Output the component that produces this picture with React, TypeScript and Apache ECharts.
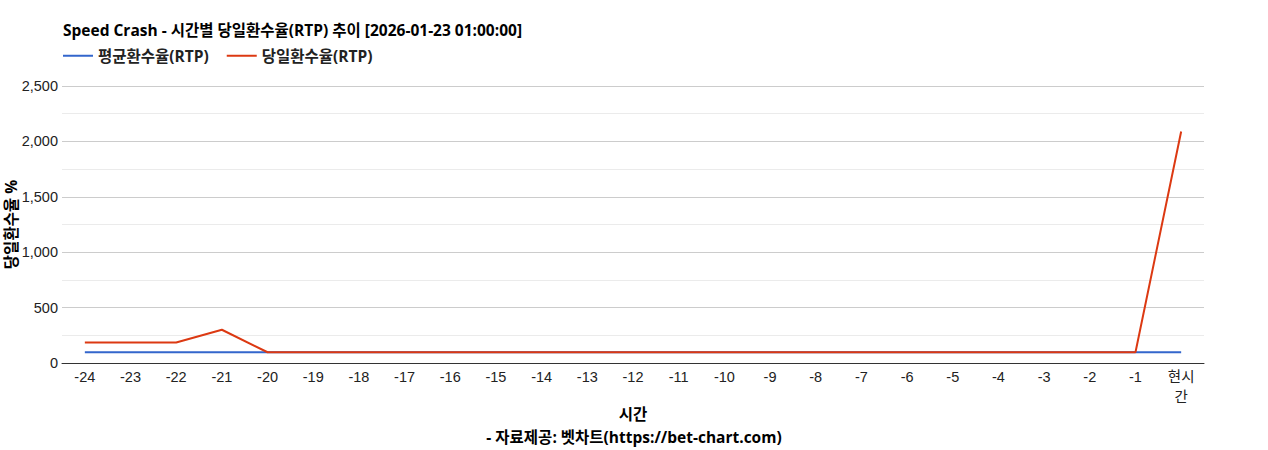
import * as echarts from 'echarts';
import { useEffect, useRef } from 'react';

const hours = [
    '-24', '-23', '-22', '-21', '-20', '-19', '-18', '-17', '-16', '-15', '-14', '-13',
    '-12', '-11', '-10', '-9', '-8', '-7', '-6', '-5', '-4', '-3', '-2', '-1', '현시간'
];
const avgRtp = [
    97, 97, 97, 97, 97, 97, 97, 97, 97, 97, 97, 97,
    97, 97, 97, 97, 97, 97, 97, 97, 97, 97, 97, 97, 97
];
const dayRtp = [
    185, 185, 185, 300, 97, 97, 97, 97, 97, 97, 97, 97,
    97, 97, 97, 97, 97, 97, 97, 97, 97, 97, 97, 97, 2090
];

const FONT = "'Liberation Sans', Arial, 'Noto Sans CJK KR', sans-serif";
const KFONT = "'Open Sans', 'Noto Sans CJK KR', sans-serif";
const BIG = 15.5;

const App = () => {
    const chartDiv = useRef<HTMLDivElement>(null);

    useEffect(() => {
        const chart = echarts.init(chartDiv.current, null, { renderer: 'svg' });

        chart.setOption({
            animation: false,
            title: [
                {
                    text: 'Speed Crash - 시간별 당일환수율(RTP) 추이 [2026-01-23 01:00:00]',
                    left: 58,
                    top: 17,
                    textStyle: { fontFamily: KFONT, fontSize: BIG, fontWeight: 'bold', color: '#000' }
                },
                {
                    text: '- 자료제공: 벳차트(https://bet-chart.com)',
                    left: 'center',
                    top: 424,
                    textStyle: { fontFamily: KFONT, fontSize: BIG, fontWeight: 'bold', color: '#000' }
                }
            ],
            legend: {
                left: 58,
                top: 43,
                icon: 'rect',
                itemWidth: 30,
                itemHeight: 2,
                itemGap: 18,
                textStyle: { fontFamily: KFONT, fontSize: BIG, fontWeight: 'bold', color: '#222' },
                data: ['평균환수율(RTP)', '당일환수율(RTP)']
            },
            grid: { left: 62, right: 64, top: 86, bottom: 87, containLabel: false, outerBoundsMode: 'none' },
            xAxis: {
                type: 'category',
                data: hours,
                boundaryGap: true,
                name: '시간',
                nameLocation: 'middle',
                nameGap: 43,
                nameMoveOverlap: false,
                nameTextStyle: { fontFamily: KFONT, fontSize: BIG, fontWeight: 'bold', color: '#000' },
                axisLine: { lineStyle: { color: '#333', width: 1 } },
                axisTick: { show: false },
                axisLabel: {
                    interval: 0,
                    margin: 4,
                    fontFamily: FONT,
                    fontSize: 14.5,
                    color: '#222',
                    lineHeight: 20,
                    formatter: (v: string) => (v === '현시간' ? '현시\n간' : v)
                }
            },
            yAxis: {
                type: 'value',
                min: 0,
                max: 2500,
                interval: 500,
                name: '당일환수율 %',
                nameLocation: 'middle',
                nameGap: 43,
                nameMoveOverlap: false,
                nameTextStyle: { fontFamily: KFONT, fontSize: BIG, fontWeight: 'bold', color: '#000' },
                axisLine: { show: false },
                axisTick: { show: false },
                axisLabel: {
                    margin: 4,
                    fontFamily: FONT,
                    fontSize: 14.5,
                    color: '#222',
                    formatter: (v: number) => v.toLocaleString('en-US')
                },
                splitLine: { lineStyle: { color: '#cccccc', width: 1 } },
                minorTick: { show: false, splitNumber: 2 },
                minorSplitLine: { show: true, lineStyle: { color: '#ebebeb', width: 1 } }
            },
            series: [
                {
                    name: '평균환수율(RTP)',
                    type: 'line',
                    data: avgRtp,
                    symbol: 'none',
                    color: '#3366cc',
                    lineStyle: { width: 2, color: '#3366cc' }
                },
                {
                    name: '당일환수율(RTP)',
                    type: 'line',
                    data: dayRtp,
                    symbol: 'none',
                    color: '#dc3912',
                    lineStyle: { width: 2, color: '#dc3912' }
                }
            ]
        });

        return () => {
            chart.dispose();
        };
    }, []);

    return (
        <div
            ref={chartDiv}
            style={{ position: 'fixed', left: 0, top: 0, width: '1268px', height: '450px', background: '#fff' }}
        />
    );
};

export default App;
